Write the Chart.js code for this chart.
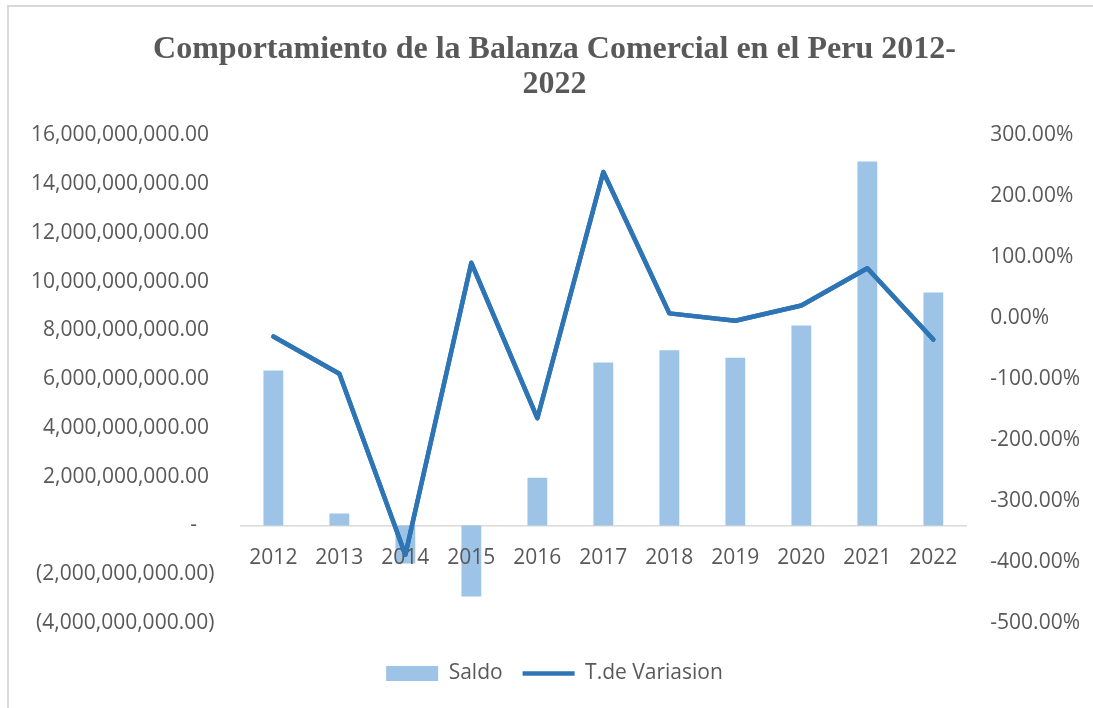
<!DOCTYPE html>
<html>
<head>
<meta charset="utf-8">
<script src="https://cdn.jsdelivr.net/npm/chart.js@4.4.1/dist/chart.umd.min.js"></script>
<style>
  html, body { margin: 0; padding: 0; background: #ffffff; }
  #wrap { position: relative; width: 1093px; height: 708px; overflow: hidden; }
  #frame { position: absolute; left: 7px; top: 5px; width: 1200px; height: 1200px;
           border-top: 2px solid #D9D9D9; border-left: 2px solid #D9D9D9; pointer-events: none; }
  canvas { display: block; }
</style>
</head>
<body>
<div id="wrap">
  <canvas id="c" width="1093" height="708"></canvas>
  <div id="frame"></div>
</div>
<script>
const categories = ['2012','2013','2014','2015','2016','2017','2018','2019','2020','2021','2022'];
const saldo = [6360000000, 490000000, -1560000000, -2910000000, 1960000000, 6690000000, 7190000000, 6880000000, 8200000000, 14930000000, 9560000000];
const variacion = [-30, -91, -388, 91, -164, 240, 8, -4, 21, 82, -35];
const titleLines = ['Comportamiento de la Balanza Comercial en el Peru 2012-', '2022'];
const seriesNames = ['Saldo', 'T.de Variasion'];

const tickFont = { family: '"Open Sans", sans-serif', size: 21 };
const grey = '#595959';

function fmtMoney(v) {
  if (v === 0) return '-\u2007 ';
  const s = Math.abs(v).toLocaleString('en-US', { minimumFractionDigits: 2, maximumFractionDigits: 2 });
  return v < 0 ? '(' + s + ')' : s + ' ';
}

// redraw the line on top of the category labels (as in the reference)
const lineOnTop = {
  id: 'lineOnTop',
  afterDraw(chart) {
    const meta = chart.getDatasetMeta(0);
    const a = chart.chartArea;
    chart.ctx.save();
    chart.ctx.beginPath();
    chart.ctx.rect(a.left - 5, a.top - 5, a.right - a.left + 10, a.bottom - a.top + 10);
    chart.ctx.clip();
    meta.controller.draw();
    chart.ctx.restore();
  }
};

function build() {
  new Chart(document.getElementById('c'), {
    data: {
      labels: categories,
      datasets: [
        {
          type: 'line',
          label: seriesNames[1],
          data: variacion,
          yAxisID: 'y1',
          borderColor: '#2E75B6',
          backgroundColor: '#2E75B6',
          borderWidth: 4.5,
          pointRadius: 0,
          tension: 0,
          borderCapStyle: 'round',
          borderJoinStyle: 'round',
          pointStyle: 'line',
          order: 1
        },
        {
          type: 'bar',
          label: seriesNames[0],
          data: saldo,
          yAxisID: 'y',
          backgroundColor: '#9DC3E6',
          borderWidth: 0,
          barPercentage: 0.6,
          categoryPercentage: 0.5,
          pointStyle: 'rect',
          order: 2
        }
      ]
    },
    options: {
      responsive: false,
      animation: false,
      layout: { padding: { top: 32, left: 5, right: -11, bottom: 14 } },
      plugins: {
        title: {
          display: true,
          text: titleLines,
          color: grey,
          font: { family: '"Liberation Serif", "Times New Roman", serif', size: 32, weight: 'bold', lineHeight: 1.1 },
          padding: { top: 0, bottom: 33 }
        },
        legend: {
          position: 'bottom',
          reverse: true,
          title: { display: true, text: ' ', font: { size: 10, lineHeight: 1 }, padding: 5 },
          labels: {
            usePointStyle: true,
            pointStyleWidth: 52,
            boxHeight: 15,
            color: grey,
            font: tickFont,
            padding: 20
          }
        },
        tooltip: { enabled: false }
      },
      scales: {
        x: {
          type: 'category',
          position: { y: 0 },
          grid: { display: false, drawTicks: false },
          border: { display: true, color: '#D9D9D9', width: 1.5 },
          ticks: { color: grey, font: tickFont, padding: 20, maxRotation: 0, autoSkip: false, z: 1 }
        },
        y: {
          position: 'left',
          min: -4000000000,
          max: 16000000000,
          grid: { display: false, drawTicks: false },
          border: { display: false },
          ticks: { stepSize: 2000000000, color: grey, font: tickFont, padding: 26, callback: (v) => fmtMoney(v) }
        },
        y1: {
          position: 'right',
          min: -500,
          max: 300,
          grid: { display: false, drawTicks: false },
          border: { display: false },
          ticks: { stepSize: 100, color: grey, font: tickFont, padding: 24, callback: (v) => v.toFixed(2) + '%' }
        }
      }
    },
    plugins: [lineOnTop]
  });
}

const loads = [
  document.fonts.load('21px "Open Sans"'),
  document.fonts.load('bold 32px "Liberation Serif"')
];
Promise.all(loads).then(build, build);
</script>
</body>
</html>
